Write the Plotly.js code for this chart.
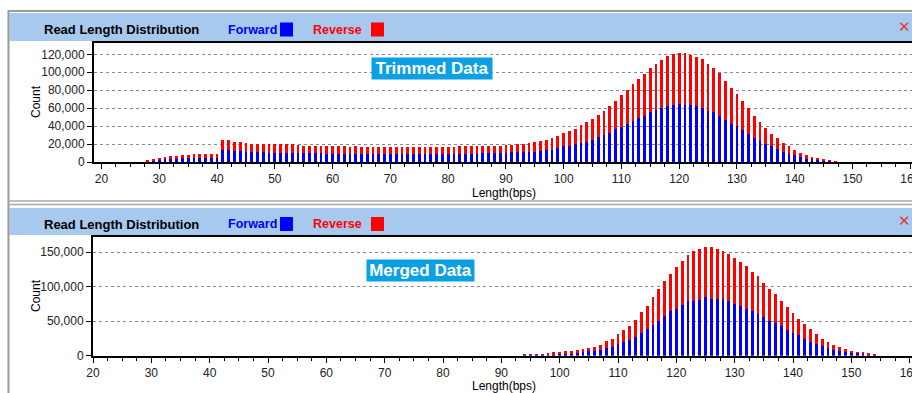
<!DOCTYPE html>
<html>
<head>
<meta charset="utf-8">
<script src="https://cdn.plot.ly/plotly-3.0.1.min.js"></script>
<style>
html,body{margin:0;padding:0;background:#ffffff;}
#chart{width:912px;height:393px;}
</style>
</head>
<body>
<div id="chart"></div>
<script>
// ---------- DATA ----------
// Trimmed Data (top panel)
const trimLengths = [28,29,30,31,32,33,34,35,36,37,38,39,40,41,42,43,44,45,46,47,48,49,50,51,52,53,54,55,56,57,58,59,60,61,62,63,64,65,66,67,68,69,70,71,72,73,74,75,76,77,78,79,80,81,82,83,84,85,86,87,88,89,90,91,92,93,94,95,96,97,98,99,100,101,102,103,104,105,106,107,108,109,110,111,112,113,114,115,116,117,118,119,120,121,122,123,124,125,126,127,128,129,130,131,132,133,134,135,136,137,138,139,140,141,142,143,144,145,146,147];
const trimForward = [500,1100,2300,3000,3400,3400,4200,4200,4500,4900,4900,4500,4200,13000,13000,11900,11900,11500,11500,11500,10700,10400,10400,10400,10400,10400,10400,9600,9600,9600,9600,9400,9300,9300,9200,9000,9200,9000,9000,8900,9000,9000,9000,9000,9000,9000,9000,9000,9100,9000,9100,9100,9100,9200,9300,9300,9300,9400,9500,9800,10000,10200,10400,10600,10800,11200,11500,11500,12300,13200,13800,16000,18000,18000,20000,21400,22500,25000,27800,30400,32600,36800,39400,42800,45400,49200,51800,55500,58200,60400,61900,63000,64200,63800,63000,62300,60600,57200,55400,51800,46500,42800,39800,35300,31500,26600,22900,20300,17600,14300,11300,9000,7500,6000,3800,3000,2300,1500,800,200];
const trimReverse = [2100,2700,1900,2300,3000,3400,3700,3700,4500,4100,4100,4500,4800,11200,11000,10700,10100,10000,8900,8900,8900,9600,9400,9200,9200,9200,8900,8600,8600,8600,8400,8600,8500,8500,8500,7800,8400,7900,7700,7800,7800,7600,7700,7700,7600,7700,7800,7700,7700,7600,7700,7600,7700,7800,8200,8300,8200,8200,8100,7900,7800,8100,8800,8800,9400,9200,10000,11000,11400,11800,12400,12800,14700,16000,16400,20000,21600,22800,25100,26200,30000,31200,35100,37700,41000,43600,45900,49500,51000,53400,55700,57200,57400,57800,55800,54900,53800,52000,48900,47200,43500,39900,35500,32700,28700,25000,21700,17800,14100,12400,10200,8700,6200,4300,4000,2600,2200,1900,1400,600];

// Merged Data (bottom panel)
const mergeLengths = [94,95,96,97,98,99,100,101,102,103,104,105,106,107,108,109,110,111,112,113,114,115,116,117,118,119,120,121,122,123,124,125,126,127,128,129,130,131,132,133,134,135,136,137,138,139,140,141,142,143,144,145,146,147,148,149,150,151,152,153,154];
const mergeForward = [400,400,500,500,900,1500,2400,2900,2900,3900,4800,6300,7300,8700,11600,13000,16900,19800,22700,27600,32900,38200,44500,50800,57600,64400,68200,73100,78900,79400,81300,84700,82800,81800,81800,78900,75000,71600,68200,64400,60500,55700,50800,47400,42600,37800,33400,29500,24700,20300,16900,13600,11100,8700,7300,5300,4400,3400,2400,1500,1000];
const mergeReverse = [2500,2500,2400,2400,2500,3300,2900,3400,3400,3800,4900,4800,5700,7300,9200,11700,14100,17500,20900,24700,30500,34400,40200,46500,51300,54200,61000,64400,67300,72100,74100,72600,74500,73600,69700,68700,66800,64400,61500,57600,54700,49800,46500,42100,37300,32400,28600,24200,21300,18900,14100,11100,8300,6300,4800,4400,2400,2400,2900,1900,1900];

// Tick labels
const xTickVals = [20,30,40,50,60,70,80,90,100,110,120,130,140,150,160];
const topYTicks = [0,20000,40000,60000,80000,100000,120000];
const botYTicks = [0,50000,100000,150000];

const panelTitle = "Read Length Distribution";
const legendNames = ["Forward","Reverse"];
const panelLabels = ["Trimmed Data","Merged Data"];
const xTitle = "Length(bps)";
const yTitle = "Count";

// ---------- LAYOUT HELPERS ----------
const W = 912, H = 393;
const px = v => v / W;
const py = v => 1 - v / H;
const FONT = "Liberation Sans, Arial, sans-serif";
const BLUE = "#0000FF", RED = "#FF0000";
const BARW = 0.48;

const traces = [
  {type:"bar", x:trimLengths, y:trimForward, name:legendNames[0], marker:{color:BLUE, line:{width:0}}, width:BARW, xaxis:"x", yaxis:"y", showlegend:false},
  {type:"bar", x:trimLengths, y:trimReverse, name:legendNames[1], marker:{color:RED, line:{width:0}}, width:BARW, xaxis:"x", yaxis:"y", showlegend:false},
  {type:"bar", x:mergeLengths, y:mergeForward, name:legendNames[0], marker:{color:BLUE, line:{width:0}}, width:BARW, xaxis:"x2", yaxis:"y2", showlegend:false},
  {type:"bar", x:mergeLengths, y:mergeReverse, name:legendNames[1], marker:{color:RED, line:{width:0}}, width:BARW, xaxis:"x2", yaxis:"y2", showlegend:false}
];

function xAxis(domainLeft, range, anchor) {
  return {
    domain:[px(domainLeft), 1], range:range, anchor:anchor,
    tickvals:xTickVals, ticks:"outside", ticklen:5, tickcolor:"#000", tickwidth:1,
    ticklabeloverflow:"allow",
    minor:{dtick:2.5, tick0:20, ticks:"outside", ticklen:3, tickcolor:"#000", showgrid:false},
    showline:true, linecolor:"#000", linewidth:2, mirror:true,
    showgrid:false, zeroline:false,
    tickfont:{family:FONT, size:12, color:"#222"}
  };
}
function yAxis(domain, range, tickvals, anchor) {
  return {
    domain:domain, range:range, anchor:anchor,
    tickvals:tickvals, tickformat:",d", ticks:"outside", ticklen:5, tickcolor:"#000",
    showline:true, linecolor:"#000", linewidth:2, mirror:true,
    showgrid:true, gridcolor:"#8a8a8a", gridwidth:1, griddash:"3px,3px",
    zeroline:false,
    tickfont:{family:FONT, size:12, color:"#222"}
  };
}

const shapes = [];
const annotations = [];

function panel(headerTop, headerBottom, textY, label, labelX, labelY, labelW) {
  // header band
  shapes.push({type:"rect", xref:"paper", yref:"paper", x0:px(9.5), x1:px(W), y0:py(headerBottom), y1:py(headerTop),
    fillcolor:"#A7C9EE", line:{width:0}, layer:"below"});
  annotations.push({xref:"paper", yref:"paper", x:px(42), y:py(textY), xanchor:"left", yanchor:"middle", showarrow:false,
    text:"<b>"+panelTitle+"</b>", font:{family:FONT, size:13, color:"#000"}});
  annotations.push({xref:"paper", yref:"paper", x:px(226), y:py(textY), xanchor:"left", yanchor:"middle", showarrow:false,
    text:"<b>"+legendNames[0]+"</b>", font:{family:FONT, size:12.5, color:BLUE}});
  annotations.push({xref:"paper", yref:"paper", x:px(311), y:py(textY), xanchor:"left", yanchor:"middle", showarrow:false,
    text:"<b>"+legendNames[1]+"</b>", font:{family:FONT, size:12.5, color:RED}});
  shapes.push({type:"rect", xref:"paper", yref:"paper", x0:px(280), x1:px(293), y0:py(textY+7), y1:py(textY-7),
    fillcolor:BLUE, line:{width:0}});
  shapes.push({type:"rect", xref:"paper", yref:"paper", x0:px(371), x1:px(384), y0:py(textY+7), y1:py(textY-7),
    fillcolor:RED, line:{width:0}});
  annotations.push({xref:"paper", yref:"paper", x:px(904.5), y:py(textY-3), xanchor:"center", yanchor:"middle", showarrow:false,
    text:"✕", font:{family:"DejaVu Sans, sans-serif", size:15, color:"#E03C3C"}});
  // data label box
  annotations.push({xref:"paper", yref:"paper", x:px(labelX), y:py(labelY), xanchor:"center", yanchor:"middle", showarrow:false,
    text:"<b>"+label+"</b>", font:{family:FONT, size:17, color:"#FFFFFF"}, bgcolor:"#0BA0E4", borderpad:0, width:labelW, height:21});
}

panel(13, 41, 29.5, panelLabels[0], 432, 68, 120);
panel(208, 235, 224, panelLabels[1], 420.5, 270, 107);

// frame lines
shapes.push({type:"line", xref:"paper", yref:"paper", x0:px(8), x1:px(W), y0:py(11), y1:py(11), line:{color:"#9a9a9a", width:2}});
shapes.push({type:"line", xref:"paper", yref:"paper", x0:px(8.5), x1:px(8.5), y0:py(10), y1:py(H), line:{color:"#9a9a9a", width:2}});
shapes.push({type:"line", xref:"paper", yref:"paper", x0:px(8), x1:px(W), y0:py(201), y1:py(201), line:{color:"#a8a8a8", width:1.5}});
shapes.push({type:"line", xref:"paper", yref:"paper", x0:px(8), x1:px(W), y0:py(204.5), y1:py(204.5), line:{color:"#a8a8a8", width:1.5}});

// axis titles
annotations.push({xref:"paper", yref:"paper", x:px(36), y:py(102), textangle:-90, showarrow:false, xanchor:"center", yanchor:"middle",
  text:yTitle, font:{family:FONT, size:12, color:"#000"}});
annotations.push({xref:"paper", yref:"paper", x:px(36), y:py(296), textangle:-90, showarrow:false, xanchor:"center", yanchor:"middle",
  text:yTitle, font:{family:FONT, size:12, color:"#000"}});
annotations.push({xref:"paper", yref:"paper", x:px(504), y:py(193), showarrow:false, xanchor:"center", yanchor:"middle",
  text:xTitle, font:{family:FONT, size:12, color:"#000"}});
annotations.push({xref:"paper", yref:"paper", x:px(504), y:py(386), showarrow:false, xanchor:"center", yanchor:"middle",
  text:xTitle, font:{family:FONT, size:12, color:"#000"}});

const layout = {
  width:W, height:H,
  margin:{l:0, r:0, t:0, b:0},
  paper_bgcolor:"#FFFFFF", plot_bgcolor:"#FFFFFF",
  barmode:"stack", bargap:0,
  showlegend:false,
  font:{family:FONT},
  xaxis: xAxis(94, [18.7, 160.3], "y"),
  yaxis: yAxis([py(162), py(43)], [0, 132600], topYTicks, "x"),
  xaxis2: xAxis(93, [20, 160.4], "y2"),
  yaxis2: yAxis([py(355.7), py(236.7)], [0, 172600], botYTicks, "x2"),
  shapes:shapes,
  annotations:annotations
};

Plotly.newPlot("chart", traces, layout, {staticPlot:true, displayModeBar:false});
</script>
</body>
</html>
